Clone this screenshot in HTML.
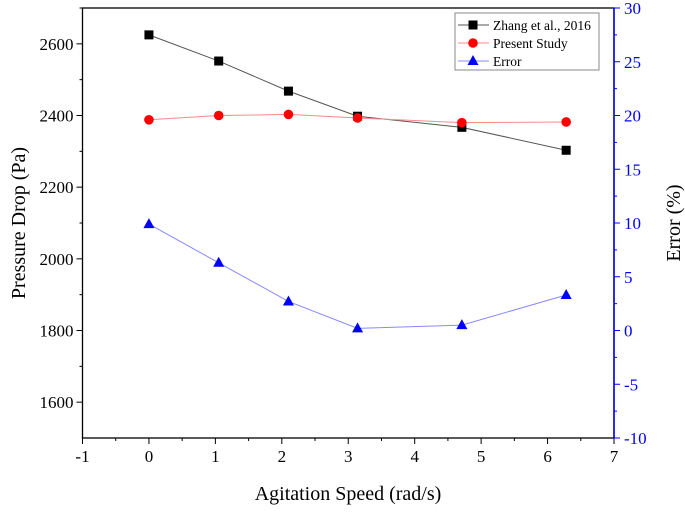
<!DOCTYPE html>
<html><head><meta charset="utf-8"><style>
body{margin:0;background:#fff}
svg{font-family:"Liberation Serif",serif}
</style></head><body>
<svg id="c" width="685" height="509"></svg>
<script>
const xVals=[0,1.05,2.1,3.14,4.71,6.28];
const zhang=[2625,2552,2468,2398,2367,2303];
const present=[2388,2400,2403,2393,2380,2382];
const errorVals=[9.9,6.3,2.7,0.2,0.5,3.3];
const xTicks=[-1,0,1,2,3,4,5,6,7];
const yTicks=[1600,1800,2000,2200,2400,2600];
const eTicks=[-10,-5,0,5,10,15,20,25,30];
const L=82.5,R=614,T=8,B=438;
const X=v=>L+(v+1)*(R-L)/8;
const Y=v=>B-(v-1500)*(B-T)/1200;
const E=v=>B-(v+10)*(B-T)/40;
const s=document.getElementById('c');
const NS='http://www.w3.org/2000/svg';
function mk(t,a,p){const e=document.createElementNS(NS,t);for(const k in a)e.setAttribute(k,a[k]);(p||s).appendChild(e);return e;}
let e;
e=mk('rect',{x:L,y:T,width:R-L,height:B-T,fill:'none',stroke:'#000','stroke-width':1.3});

e=mk('line',{x1:R,y1:T,x2:R,y2:B,stroke:'#00f','stroke-width':1.5});

xTicks.forEach((v,i)=>{mk('line',{x1:X(v),y1:B,x2:X(v),y2:B+6,stroke:'#000'});
 if(i<xTicks.length-1)mk('line',{x1:X(v+0.5),y1:B,x2:X(v+0.5),y2:B+3,stroke:'#000'});
 e=mk('text',{x:X(v),y:B+24,'text-anchor':'middle','font-size':17});e.textContent=v;
 });
yTicks.forEach(v=>{mk('line',{x1:L,y1:Y(v),x2:L-6,y2:Y(v),stroke:'#000'});
 mk('line',{x1:L,y1:Y(v+100),x2:L-3,y2:Y(v+100),stroke:'#000'});
 e=mk('text',{x:L-9,y:Y(v)+6,'text-anchor':'end','font-size':17});e.textContent=v;
 });
eTicks.forEach((v,i)=>{mk('line',{x1:R,y1:E(v),x2:R+6,y2:E(v),stroke:'#00f'});
 if(i<eTicks.length-1)mk('line',{x1:R,y1:E(v+2.5),x2:R+3,y2:E(v+2.5),stroke:'#00f'});
 e=mk('text',{x:R+10,y:E(v)+6,'font-size':17,fill:'#00f'});e.textContent=v;
 });
e=mk('text',{x:348,y:500,'text-anchor':'middle','font-size':20});e.textContent='Agitation Speed (rad/s)';

e=mk('text',{x:25,y:223,'text-anchor':'middle','font-size':20,transform:'rotate(-90 25 223)'});e.textContent='Pressure Drop (Pa)';

e=mk('text',{x:680,y:223,'text-anchor':'middle','font-size':20,transform:'rotate(-90 680 223)'});e.textContent='Error (%)';

function marker(sh,x,y,c){if(sh==='sq')return mk('rect',{x:x-4.5,y:y-4.5,width:9,height:9,fill:c});
 if(sh==='ci')return mk('circle',{cx:x,cy:y,r:4.8,fill:c});
 return mk('polygon',{points:`${x},${y-6} ${x-5.5},${y+4} ${x+5.5},${y+4}`,fill:c});}
function series(vals,fy,color,lc,sh,name){
 e=mk('polyline',{points:vals.map((v,i)=>X(xVals[i])+','+fy(v)).join(' '),fill:'none',stroke:lc,'stroke-width':1});
 
 vals.forEach((v,i)=>{e=marker(sh,X(xVals[i]),fy(v),color);
  });}
series(zhang,Y,'#000','#555','sq','zhang');
series(present,Y,'#f00','#f88','ci','present');
series(errorVals,E,'#00f','#88f','tr','error');
const lg=mk('g',{});
mk('rect',{x:455,y:13,width:144,height:57,fill:'#fff',stroke:'#888'},lg);
[['Zhang et al., 2016','#000','#555','sq'],['Present Study','#f00','#f88','ci'],['Error','#00f','#88f','tr']].forEach((d,i)=>{
 const y=25+i*18;mk('line',{x1:458,y1:y,x2:489,y2:y,stroke:d[2]},lg);
 const m=marker(d[3],473,y,d[1]);lg.appendChild(m);
 const t=mk('text',{x:493,y:y+5,'font-size':13.5},lg);t.textContent=d[0];
 });
</script>
</body></html>
